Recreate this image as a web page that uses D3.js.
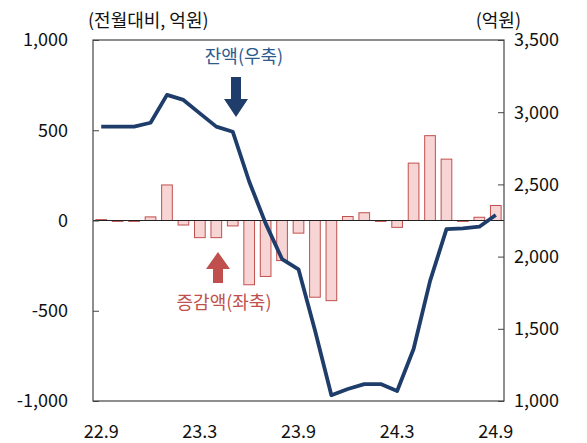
<html>
<script src='https://d3js.org/d3.v7.min.js'></script>
<style>
    body { margin: 0; background: #fff; }
    text { font-family: 'Noto Sans CJK KR', 'Noto Sans', sans-serif; }
</style>
<body>
<svg width=587 height=443></svg>
<script>
    // months 22.9 .. 24.9
    let months = [];
    for (let i = 0; i < 25; i++) {
        let m = 9 + i, y = 22 + Math.floor((m - 1) / 12);
        months.push(y + '.' + (((m - 1) % 12) + 1));
    }
    let xTicks = ['22.9', '23.3', '23.9', '24.3', '24.9'];
    // 증감액 (left axis)
    let change = [5, -5, -5, 20, 197, -25, -95, -95, -30, -356, -310, -222, -70, -425, -444,
                  22, 43, -5, -38, 318, 470, 340, -5, 18, 83];
    // 잔액 (right axis)
    let balance = [2900, 2900, 2900, 2927, 3120, 3085, 2992, 2900, 2865, 2520, 2230, 1983, 1912,
                   1490, 1040, 1083, 1117, 1117, 1069, 1360, 1830, 2190, 2195, 2207, 2288];
    let leftTicks = [-1000, -500, 0, 500, 1000];
    let rightTicks = [1000, 1500, 2000, 2500, 3000, 3500];

    let svg = d3.select('svg');
    let L = 93, R = 504, T = 40, B = 401;

    let x = d3.scaleBand().domain(months).range([L, R]).paddingInner(0.35).paddingOuter(0.175);
    let yl = d3.scaleLinear().domain([-1000, 1000]).range([B, T]);
    let yr = d3.scaleLinear().domain([1000, 3500]).range([B, T]);
    let fmt = d => d3.format(',')(d).replace('−', '-');

    // bars
    svg.append('g').selectAll('rect').data(change).enter().append('rect')
        .attr('x', (d, i) => x(months[i]))
        .attr('width', x.bandwidth())
        .attr('y', d => yl(Math.max(0, d)))
        .attr('height', d => Math.abs(yl(d) - yl(0)))
        .attr('fill', '#f7d5d5')
        .attr('stroke', '#c0504d')
        .attr('stroke-width', 1);

    // zero line
    svg.append('line').attr('x1', L).attr('x2', R).attr('y1', yl(0)).attr('y2', yl(0))
        .attr('stroke', '#222').attr('stroke-width', 1.2);

    // balance line
    let line = d3.line().x((d, i) => x(months[i]) + x.bandwidth() / 2).y(d => yr(d));
    svg.append('path').datum(balance).attr('d', line)
        .attr('fill', 'none').attr('stroke', '#1f3d6b').attr('stroke-width', 3.8)
        .attr('stroke-linejoin', 'round');

    // frame
    svg.append('rect').attr('x', L).attr('y', T).attr('width', R - L).attr('height', B - T)
        .attr('fill', 'none').attr('stroke', '#444').attr('stroke-width', 1.2);

    // axes
    let axL = svg.append('g').attr('transform', `translate(${L},0)`)
        .call(d3.axisRight(yl).tickValues(leftTicks).tickSize(6).tickFormat(''));
    let axR = svg.append('g').attr('transform', `translate(${R},0)`)
        .call(d3.axisLeft(yr).tickValues(rightTicks).tickSize(6).tickFormat(''));
    [axL, axR].forEach(a => { a.select('.domain').remove(); a.selectAll('line').attr('stroke', '#444'); });

    svg.append('g').selectAll('text').data(leftTicks).enter().append('text')
        .attr('x', 68).attr('y', d => yl(d)).attr('dy', '0.35em')
        .attr('text-anchor', 'end').attr('font-size', 18).attr('fill', '#111')
        .text(d => fmt(d));
    svg.append('g').selectAll('text').data(rightTicks).enter().append('text')
        .attr('x', 514).attr('y', d => yr(d)).attr('dy', '0.35em')
        .attr('text-anchor', 'start').attr('font-size', 18).attr('fill', '#111')
        .text(d => fmt(d));
    svg.append('g').selectAll('text').data(xTicks).enter().append('text')
        .attr('x', d => x(d) + x.bandwidth() / 2).attr('y', 432).attr('dy', '0.35em')
        .attr('text-anchor', 'middle').attr('font-size', 18).attr('fill', '#111')
        .text(d => d);

    // unit labels
    svg.append('text').attr('x', 88).attr('y', 27).attr('font-size', 18).attr('fill', '#111')
        .text('(전월대비, 억원)');
    svg.append('text').attr('x', 521).attr('y', 27).attr('text-anchor', 'end')
        .attr('font-size', 18).attr('fill', '#111').text('(억원)');

    // annotations
    svg.append('text').attr('x', 244).attr('y', 63).attr('text-anchor', 'middle')
        .attr('font-size', 18).attr('fill', '#2e5a8e').text('잔액(우축)');
    svg.append('path').attr('d', 'M231,77 h10 v22 h7 l-12,18 l-12,-18 h7 Z').attr('fill', '#1f3d6b');

    svg.append('text').attr('x', 224).attr('y', 309).attr('text-anchor', 'middle')
        .attr('font-size', 18).attr('fill', '#c0504d').text('증감액(좌축)');
    svg.append('path').attr('d', 'M213,283 h10 v-14 h7 l-12,-17 l-12,17 h7 Z').attr('fill', '#c0504d');
</script>
</body>
</html>
